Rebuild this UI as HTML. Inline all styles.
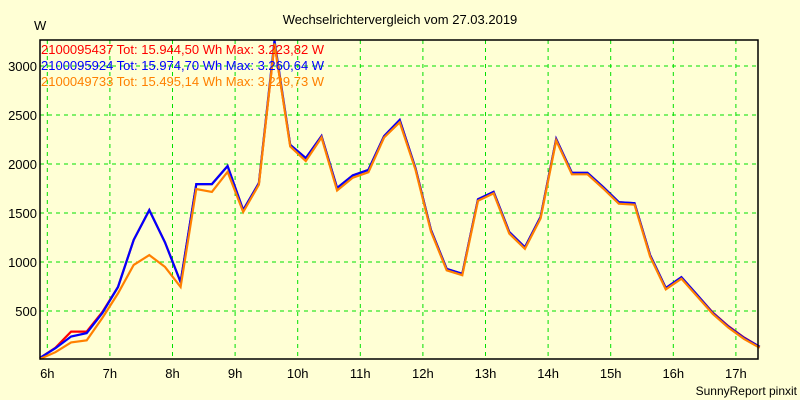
<!DOCTYPE html>
<html><head><meta charset="utf-8"><style>
body{margin:0;background:#ffffd5;}
svg{display:block;font-family:"Liberation Sans",sans-serif;}
</style></head><body>
<svg id="chart" width="800" height="400">
<rect x="0" y="0" width="800" height="400" fill="#ffffd5"/>
<text x="400" y="24" text-anchor="middle" font-size="13">Wechselrichtervergleich vom 27.03.2019</text>
<text x="34" y="30" font-size="13">W</text>
<text x="797" y="395" text-anchor="end" font-size="12">SunnyReport pinxit</text>
<g id="grid"></g>
<g id="series"></g>
<rect x="40" y="40" width="718" height="319" fill="none" stroke="#000" stroke-width="1.5"/>
<g id="legend"></g>
</svg>
<script>
const xTicks=[6,7,8,9,10,11,12,13,14,15,16,17];
const yTicks=[500,1000,1500,2000,2500,3000];
const startHour=5.88;
const stepHours=0.25;
const blueVals=[20,120,240,275,480,745,1225,1530,1200,795,1795,1795,1980,1530,1805,3260,2195,2060,2285,1755,1885,1940,2285,2450,1960,1325,930,880,1640,1715,1305,1150,1460,2255,1910,1910,1765,1610,1600,1070,735,845,665,480,340,225,135];
const redVals=[20,125,290,290,490,745,1225,1530,1200,795,1795,1795,1980,1530,1805,3224,2195,2060,2285,1755,1885,1940,2285,2450,1960,1325,930,880,1640,1715,1305,1150,1460,2255,1910,1910,1765,1610,1600,1070,735,845,665,485,345,230,135];
const orangeVals=[10,80,180,200,430,680,970,1070,950,745,1745,1715,1920,1510,1790,3230,2180,2030,2270,1730,1860,1915,2270,2425,1945,1310,915,865,1625,1700,1290,1135,1445,2240,1895,1895,1750,1595,1585,1055,720,830,650,470,330,215,125];
const legendLabels=["2100095437 Tot: 15.944,50 Wh Max: 3.223,82 W","2100095924 Tot: 15.974,70 Wh Max: 3.260,64 W","2100049733 Tot: 15.495,14 Wh Max: 3.229,73 W"];
const NS="http://www.w3.org/2000/svg";
function xs(h){return 47.3+62.6*(h-6);}
function ys(v){return 311-(v-500)*0.098;}
const grid=document.getElementById('grid');
xTicks.forEach(h=>{
 const l=document.createElementNS(NS,'line');
 l.setAttribute('x1',xs(h));l.setAttribute('x2',xs(h));l.setAttribute('y1',40);l.setAttribute('y2',359);
 l.setAttribute('stroke','#00e000');l.setAttribute('stroke-dasharray','4,4');
 
 
 grid.appendChild(l);
 const t=document.createElementNS(NS,'text');
 t.setAttribute('x',xs(h));t.setAttribute('y',378);t.setAttribute('text-anchor','middle');t.setAttribute('font-size','13');
 t.textContent=h+'h';
 
 
 grid.appendChild(t);
});
yTicks.forEach(v=>{
 const l=document.createElementNS(NS,'line');
 l.setAttribute('x1',40);l.setAttribute('x2',758);l.setAttribute('y1',ys(v));l.setAttribute('y2',ys(v));
 l.setAttribute('stroke','#00e000');l.setAttribute('stroke-dasharray','4,4');
 
 
 grid.appendChild(l);
 const t=document.createElementNS(NS,'text');
 t.setAttribute('x',37);t.setAttribute('y',ys(v)+5);t.setAttribute('text-anchor','end');t.setAttribute('font-size','13');
 t.textContent=v;
 
 
 grid.appendChild(t);
});
const ser=document.getElementById('series');
function line(vals,color,name){
 const p=document.createElementNS(NS,'polyline');
 p.setAttribute('points',vals.map((v,i)=>xs(startHour+stepHours*i).toFixed(1)+','+ys(v).toFixed(1)).join(' '));
 p.setAttribute('fill','none');p.setAttribute('stroke',color);p.setAttribute('stroke-width','2.2');
 
 
 ser.appendChild(p);
}
line(redVals,'#ff0000','series-2100095437');
line(blueVals,'#0000ff','series-2100095924');
line(orangeVals,'#ff8000','series-2100049733');
const lg=document.getElementById('legend');
const colors=['#ff0000','#0000ff','#ff8000'];
legendLabels.forEach((s,i)=>{
 const t=document.createElementNS(NS,'text');
 t.setAttribute('x',41);t.setAttribute('y',54+i*16);t.setAttribute('font-size','13');t.setAttribute('fill',colors[i]);
 t.textContent=s;
 
 
 lg.appendChild(t);
});
</script>
</body></html>
